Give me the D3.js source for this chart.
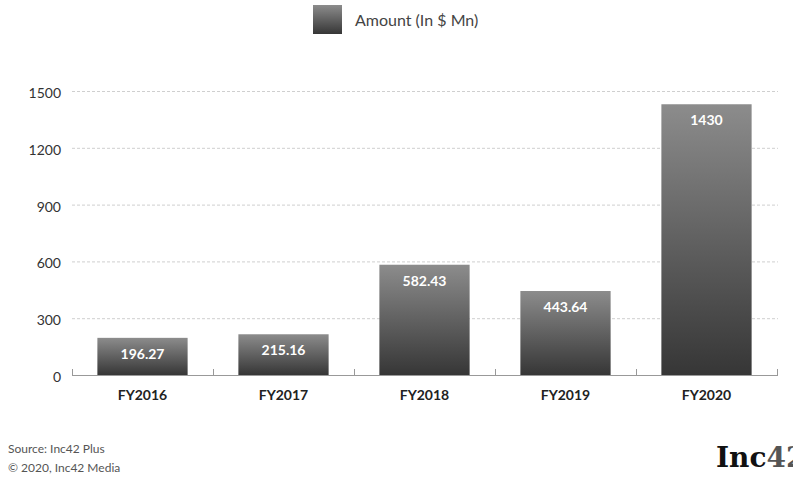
<!DOCTYPE html>
<html><head><meta charset="utf-8">
<script src="https://cdn.jsdelivr.net/npm/d3@7"></script>
<style>body{margin:0;background:#fff}svg{display:block}</style>
</head><body>
<script>
const categories = ["FY2016","FY2017","FY2018","FY2019","FY2020"];
const amounts = [196.27, 215.16, 582.43, 443.64, 1430];
const valueLabels = ["196.27","215.16","582.43","443.64","1430"];
const yTicks = [0,300,600,900,1200,1500];
const seriesName = "Amount (In $ Mn)";

const W=793,H=478;
const svg=d3.select("body").append("svg").attr("width",W).attr("height",H);
const font="Lato, 'Open Sans', sans-serif";
const defs=svg.append("defs");
const g=defs.append("linearGradient").attr("id","bg").attr("x1",0).attr("y1",0).attr("x2",0).attr("y2",1);
g.append("stop").attr("offset","0%").attr("stop-color","#8c8c8c");
g.append("stop").attr("offset","100%").attr("stop-color","#363636");

const x=d3.scaleBand().domain(categories).range([72,777]).paddingInner(0.36).paddingOuter(0.18);
const y=d3.scaleLinear().domain([0,1500]).range([375,91]);

// gridlines
svg.append("g").selectAll("line").data(yTicks.filter(d=>d>0)).join("line")
 .attr("x1",72).attr("x2",778).attr("y1",d=>y(d)+0.5).attr("y2",d=>y(d)+0.5)
 .attr("stroke","#cfcfcf").attr("stroke-dasharray","3,2");

// y labels
svg.append("g").selectAll("text").data(yTicks).join("text")
 .attr("x",61).attr("y",d=>y(d)+2).attr("dy","0.35em").attr("text-anchor","end")
 .attr("font-family",font).attr("font-size",14).attr("fill","#333").text(d=>d);

// bars
svg.append("g").selectAll("rect").data(amounts).join("rect")
 .attr("x",(d,i)=>x(categories[i])).attr("width",x.bandwidth())
 .attr("y",d=>y(d)).attr("height",d=>y(0)-y(d)).attr("fill","url(#bg)");

// value labels
svg.append("g").selectAll("text").data(amounts).join("text")
 .attr("x",(d,i)=>x(categories[i])+x.bandwidth()/2).attr("y",d=>y(d)+21)
 .attr("text-anchor","middle").attr("font-family",font).attr("font-weight","bold")
 .attr("font-size",14).attr("fill","#fff").text((d,i)=>valueLabels[i]);

// baseline axis
const ax=svg.append("g");
ax.append("line").attr("x1",72).attr("x2",778).attr("y1",375.5).attr("y2",375.5).attr("stroke","#999").attr("stroke-width",1.2);
const bounds=[72].concat(categories.map(c=>x(c)-x.step()*x.paddingInner()/2+x.step()));
ax.selectAll("line.t").data(bounds).join("line").attr("class","t")
 .attr("x1",d=>d+0.5).attr("x2",d=>d+0.5).attr("y1",369).attr("y2",376).attr("stroke","#999");

// x labels
svg.append("g").selectAll("text").data(categories).join("text")
 .attr("x",d=>x(d)+x.bandwidth()/2).attr("y",400).attr("text-anchor","middle")
 .attr("font-family",font).attr("font-weight","bold").attr("font-size",14).attr("fill","#222").text(d=>d);

// legend
svg.append("rect").attr("x",313).attr("y",5).attr("width",29).attr("height",29).attr("fill","url(#bg)");
svg.append("text").attr("x",355).attr("y",20).attr("dy","0.35em").attr("font-family",font)
 .attr("font-size",16).attr("fill","#444").text(seriesName);

// footer
svg.append("text").attr("x",8).attr("y",453).attr("font-family",font).attr("font-size",12).attr("fill","#555").text("Source: Inc42 Plus");
svg.append("text").attr("x",8).attr("y",472).attr("font-family",font).attr("font-size",12).attr("fill","#555").text("© 2020, Inc42 Media");
const logo=svg.append("text").attr("x",716).attr("y",467).attr("font-family","'DejaVu Serif', 'Liberation Serif', serif").attr("font-weight","bold").attr("font-size",28);
logo.append("tspan").attr("fill","#111").text("Inc");
logo.append("tspan").attr("fill","#555").text("42");
</script>
</body></html>
